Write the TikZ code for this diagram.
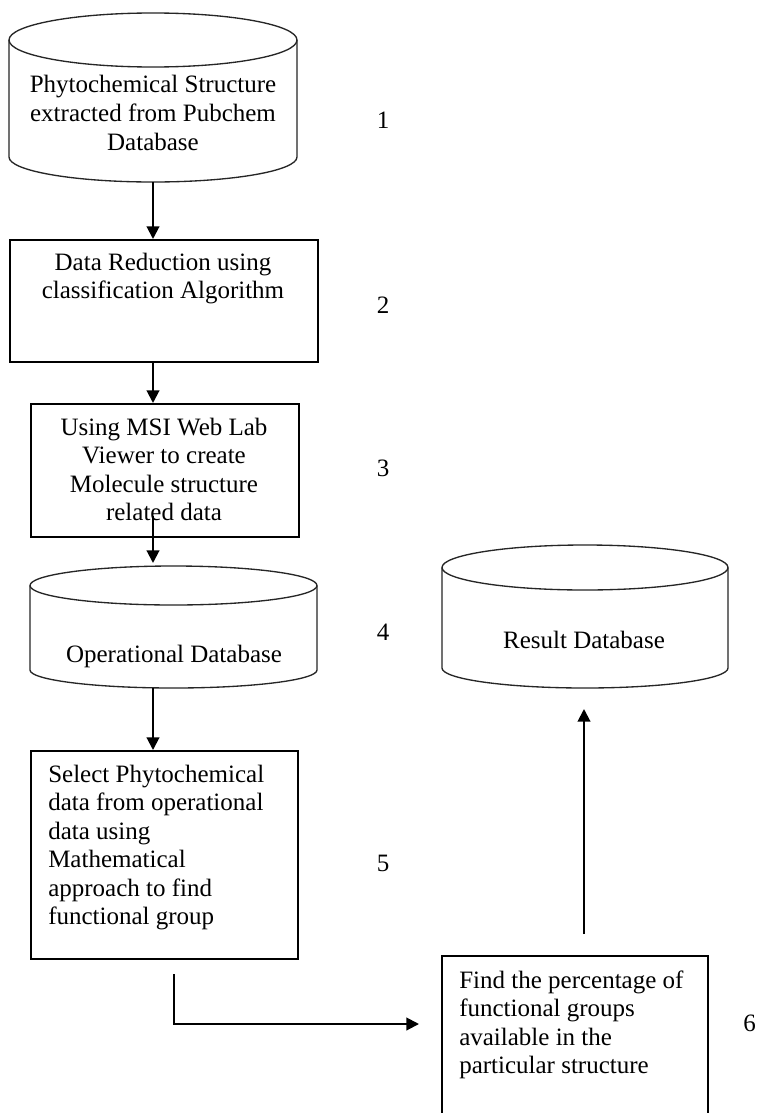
\documentclass[tikz,border=0pt]{standalone}
\usepackage{fontspec}
\setmainfont{Liberation Serif}
\usetikzlibrary{arrows.meta}
\newcommand\mylinesc[1]{\begin{tabular}[t]{@{}c@{}}#1\end{tabular}}
\newcommand\mylinesl[1]{\begin{tabular}[t]{@{}l@{}}#1\end{tabular}}
\begin{document}
\begin{tikzpicture}[x=0.75pt,y=-0.75pt,
  font=\fontsize{18.75pt}{21.4pt}\selectfont,
  box/.style={draw,line width=1.5pt,rectangle,inner sep=0pt,anchor=north west},
  cylline/.style={draw=black!85,line width=1pt},
  arr/.style={line width=1.5pt,-{Triangle[length=9.5pt,width=9.5pt]}},
  txt/.style={inner sep=0pt,anchor=base},
  num/.style={inner sep=0pt,anchor=base}]
\clip (0,0) rectangle (757,1113);
\fill[white] (0,0) rectangle (757,1113);

% cylinder 1
\draw[cylline] (9,40) -- (9,157) arc[start angle=180,end angle=360,x radius=108pt,y radius=18.75pt] -- (297,40);
\draw[cylline] (153,40) ellipse[x radius=108pt,y radius=20.25pt];
\node[txt] (t1) at (153,93) {\mylinesc{Phytochemical Structure\\extracted from Pubchem\\Database}};
\coordinate (c1b) at (153,182);

% box 2
\node[box,minimum width=231pt,minimum height=91.5pt] (b2) at (9,239) {};
\node[txt] (t2) at (163,270) {\mylinesc{Data Reduction using\\classification Algorithm}};
\draw[arr] (c1b) -- (c1b |- b2.north);

% box 3
\node[box,minimum width=201pt,minimum height=99.75pt] (b3) at (30,403) {};
\node[txt] (t3) at (164,435) {\mylinesc{Using MSI Web Lab\\Viewer to create\\Molecule structure\\related data}};
\draw[arr] (c1b |- b2.south) -- (c1b |- b3.north);

% cylinder 4
\draw[cylline] (30,585.5) -- (30,670) arc[start angle=180,end angle=360,x radius=107.625pt,y radius=13.5pt] -- (317,585.5);
\draw[cylline] (173.5,585.5) ellipse[x radius=107.625pt,y radius=14.625pt];
\node[txt] (t4) at (174,662) {Operational Database};
\coordinate (a3s) at (153,516);
\coordinate (c4t) at (153,563);
\draw[arr] (a3s) -- (c4t);
\coordinate (c4b) at (153,688);

% box 5
\node[box,minimum width=200.25pt,minimum height=156pt] (b5) at (30,750) {};
\node[txt,anchor=base west] (t5) at (48,782) {\mylinesl{Select Phytochemical\\data from operational\\data using\\Mathematical\\approach to find\\functional group}};
\draw[arr] (c4b) -- (c4b |- b5.north);

% box 6
\node[box,minimum width=199.5pt,minimum height=150pt] (b6) at (441,955) {};
\node[txt,anchor=base west] (t6) at (459,988) {\mylinesl{Find the percentage of\\functional groups\\available in the\\particular structure}};
\coordinate (a5s) at (174,974);
\coordinate (a5e) at (419,1024);
\draw[arr] (a5s) |- (a5e);

% result cylinder
\draw[cylline] (442,567.5) -- (442,668) arc[start angle=180,end angle=360,x radius=107.25pt,y radius=15pt] -- (728,567.5);
\draw[cylline] (585,567.5) ellipse[x radius=107.25pt,y radius=16.875pt];
\node[txt] (tr) at (584,648) {Result Database};
\coordinate (a6s) at (584,934);
\coordinate (rcb) at (584,709);
\draw[arr] (a6s) -- (rcb);

% step numbers
\node[num] (n1) at (383,128) {1};
\node[num] (n2) at (383,313) {2};
\node[num] (n3) at (383,476) {3};
\node[num] (n4) at (383,640) {4};
\node[num] (n5) at (383,871) {5};
\node[num,anchor=base west] (n6) at (743,1031) {6};
\end{tikzpicture}
\end{document}
